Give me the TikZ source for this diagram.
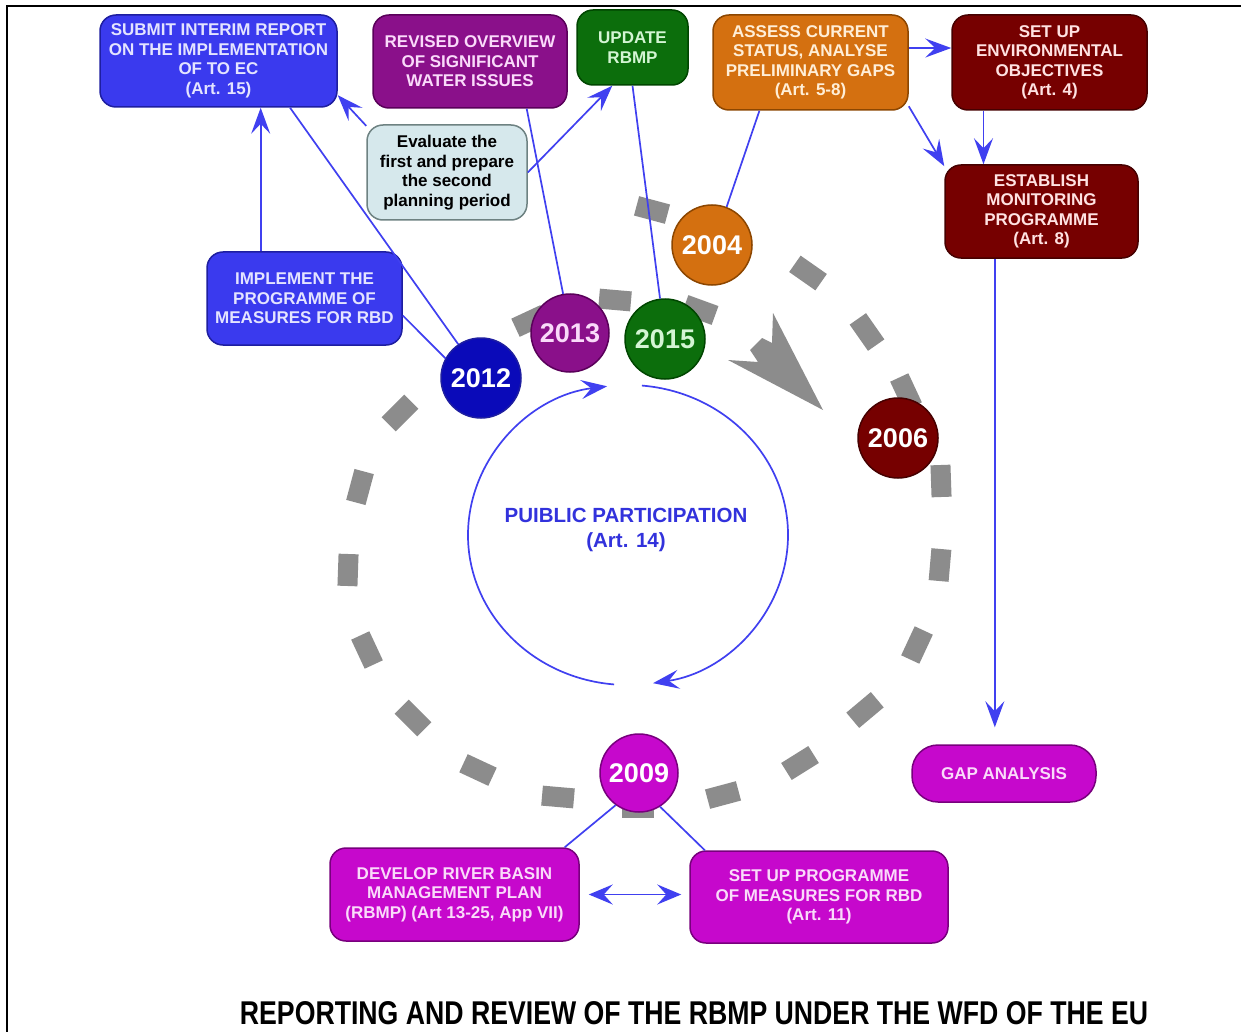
\documentclass[tikz,border=0pt]{standalone}
\usepackage{fontspec}
\usepackage{graphicx}
\setmainfont{Liberation Sans}
\usetikzlibrary{arrows.meta,calc}

% palette
\definecolor{blueBox}{RGB}{58,58,238}
\definecolor{blueLine}{RGB}{30,30,160}
\definecolor{blueText}{RGB}{228,228,255}
\definecolor{navyYear}{RGB}{10,10,185}
\definecolor{plumBox}{RGB}{138,16,138}
\definecolor{plumLine}{RGB}{90,0,90}
\definecolor{plumText}{RGB}{250,218,250}
\definecolor{greenBox}{RGB}{12,110,12}
\definecolor{greenLine}{RGB}{0,70,0}
\definecolor{greenText}{RGB}{212,245,212}
\definecolor{orangeBox}{RGB}{212,112,16}
\definecolor{orangeLine}{RGB}{140,70,0}
\definecolor{orangeText}{RGB}{255,238,215}
\definecolor{wineBox}{RGB}{118,0,0}
\definecolor{wineLine}{RGB}{70,0,0}
\definecolor{wineText}{RGB}{255,226,226}
\definecolor{magBox}{RGB}{198,8,204}
\definecolor{magLine}{RGB}{120,0,125}
\definecolor{magText}{RGB}{250,218,250}
\definecolor{evalFill}{RGB}{214,232,236}
\definecolor{evalLine}{RGB}{110,130,130}
\definecolor{connBlue}{RGB}{64,64,240}
\definecolor{ppBlue}{RGB}{50,50,220}
\definecolor{dashGray}{RGB}{140,140,140}

\newcommand\boxfont{\fontsize{17}{19.5}\selectfont\bfseries}
\newcommand\yearfont{\fontsize{27}{30}\selectfont\bfseries}

\begin{document}
\begin{tikzpicture}[x=1pt,y=1pt,
  box/.style={rectangle, rounded corners=16pt, draw, line width=1.5pt,
    align=center, inner sep=0pt, font=\boxfont},
  yr/.style={circle, draw, line width=1.5pt, minimum size=80pt,
    inner sep=0pt, font=\yearfont, text=white},
  conn/.style={draw=connBlue, line width=1.7pt},
  arr/.style={conn, -{Stealth[length=26pt,width=19pt,inset=10pt]}},
  dblarr/.style={conn, {Stealth[length=24pt,width=20pt,inset=9pt]}-{Stealth[length=24pt,width=20pt,inset=9pt]}}
]
\useasboundingbox (0,0) rectangle (1241,-1032);
\fill[white] (0,0) rectangle (1241,-1032);
\draw[line width=2pt] (7,-1032) -- (7,-6) -- (1241,-6);

% dashed cycle of the planning period
\foreach \x/\y/\a in {652/210/15, 808/273/35, 867/332/55, 906/392/65,
    941/481/88, 940/565/95, 917/645/115, 865/710/140, 800/763/148,
    723/795/165, 638/808/180, 558/797/5, 478/770/25, 413/718/45,
    367/650/65, 348/570/92, 360/487/105, 400/413/135, 530/321/155,
    615/300/5, 700/310/20}
  \fill[dashGray, rotate around={-\a:(\x,-\y)}]
    ({\x-16},{-\y-10}) rectangle ({\x+16},{-\y+10});
\fill[dashGray] (823,-410) -- (773,-313) -- (772,-343) -- (762,-338)
  -- (750,-350) -- (758,-362) -- (728,-360) -- cycle;

% year markers
\node[yr, fill=orangeBox, draw=orangeLine] (y2004) at (712,-245) {2004};
\node[yr, fill=wineBox, draw=wineLine] (y2006) at (898,-438) {2006};
\node[yr, fill=magBox, draw=magLine, minimum size=78pt] (y2009) at (639,-773) {2009};
\node[yr, fill=navyYear, draw=blueLine] (y2012) at (481,-378) {2012};
\node[yr, fill=plumBox, draw=plumLine, minimum size=78pt, text=plumText] (y2013) at (570,-333) {2013};
\node[yr, fill=greenBox, draw=greenLine, text=greenText] (y2015) at (665,-339) {2015};

% task boxes
\node[box, fill=blueBox, draw=blueLine, text=blueText,
  minimum width=237pt, minimum height=92pt] (submit) at (218.5,-61)
  {SUBMIT INTERIM REPORT\\ON THE IMPLEMENTATION\\OF TO EC\\(Art. 15)};
\node[box, fill=blueBox, draw=blueLine, text=blueText,
  minimum width=195pt, minimum height=93pt] (impl) at (304.5,-298.5)
  {IMPLEMENT THE\\PROGRAMME OF\\MEASURES FOR RBD};
\node[box, fill=plumBox, draw=plumLine, text=plumText,
  minimum width=194pt, minimum height=93pt] (revised) at (470,-61.5)
  {REVISED OVERVIEW\\OF SIGNIFICANT\\WATER ISSUES};
\node[box, fill=greenBox, draw=greenLine, text=greenText,
  minimum width=111pt, minimum height=75pt] (update) at (632.5,-47.5)
  {UPDATE\\RBMP};
\node[box, fill=evalFill, draw=evalLine, text=black,
  minimum width=160pt, minimum height=95pt] (eval) at (447,-172.5)
  {Evaluate the\\first and prepare\\the second\\planning period};
\node[box, fill=orangeBox, draw=orangeLine, text=orangeText,
  minimum width=195pt, minimum height=95pt] (assess) at (810.5,-62.5)
  {ASSESS CURRENT\\STATUS, ANALYSE\\PRELIMINARY GAPS\\(Art. 5-8)};
\node[box, fill=wineBox, draw=wineLine, text=wineText,
  minimum width=195pt, minimum height=95pt] (setenv) at (1049.5,-62.5)
  {SET UP\\ENVIRONMENTAL\\OBJECTIVES\\(Art. 4)};
\node[box, fill=wineBox, draw=wineLine, text=wineText,
  minimum width=193pt, minimum height=93pt] (establish) at (1041.5,-211.5)
  {ESTABLISH\\MONITORING\\PROGRAMME\\(Art. 8)};
\node[box, fill=magBox, draw=magLine, text=magText, rounded corners=26pt,
  minimum width=184pt, minimum height=57pt] (gap) at (1004,-773.5)
  {GAP ANALYSIS};
\node[box, fill=magBox, draw=magLine, text=magText,
  minimum width=249pt, minimum height=93pt] (develop) at (454.5,-894.5)
  {DEVELOP RIVER BASIN\\MANAGEMENT PLAN\\(RBMP) (Art 13-25, App VII)};
\node[box, fill=magBox, draw=magLine, text=magText,
  minimum width=258pt, minimum height=92pt] (setprog) at (819,-897)
  {SET UP PROGRAMME\\OF MEASURES FOR RBD\\(Art. 11)};

% public participation loop
\node[text=ppBlue, font=\fontsize{20.5}{25}\selectfont\bfseries, align=center]
  (pp) at (626,-530) {PUIBLIC PARTICIPATION\\(Art. 14)};
\coordinate (ring) at (628,-535);
\draw[arr] (ring) ++(-95:160 and 150)
  arc[start angle=-95, end angle=-262.5, x radius=160, y radius=150];
\draw[arr] (ring) ++(-275:160 and 150)
  arc[start angle=-275, end angle=-441, x radius=160, y radius=150];

% connectors
\coordinate (a1) at ($(impl.north west)!0.277!(impl.north east)$);
\draw[arr] (a1) -- (a1 |- submit.south);
\draw[conn] ($(submit.south west)!0.80!(submit.south east)$) -- (y2012.124);
\draw[conn] ($(impl.north east)!0.68!(impl.south east)$) -- (y2012.151);
\draw[arr] (eval.150) -- (submit.-16);
\draw[arr] (eval.east) -- ($(update.south west)!0.32!(update.south east)$);
\draw[conn] ($(revised.south west)!0.79!(revised.south east)$) -- (y2013.100);
\draw[conn] (update.south) -- (y2015.97);
\draw[conn] ($(assess.south west)!0.24!(assess.south east)$) -- (y2004.69);
\coordinate (i1) at ($(assess.north east)!0.35!(assess.south east)$);
\draw[arr] (i1) -- (i1 -| setenv.west);
\draw[arr] (assess.-24) -- (establish.155);
\coordinate (k1) at ($(setenv.south west)!0.164!(setenv.south east)$);
\draw[arr] (k1) -- (k1 |- establish.north);
\coordinate (l1) at ($(establish.south west)!0.26!(establish.south east)$);
\draw[arr, shorten >=17pt] (l1) -- (l1 |- gap.north);
\draw[conn] (y2009.234) -- ($(develop.north west)!0.94!(develop.north east)$);
\draw[conn] (y2009.302) -- ($(setprog.north west)!0.06!(setprog.north east)$);
\draw[dblarr, shorten <=9pt, shorten >=8pt] (develop.east) -- (develop.east -| setprog.west);

% caption
\node[inner sep=0pt] (title) at (694,-1013)
  {\resizebox{908pt}{23pt}{\bfseries REPORTING AND REVIEW OF THE RBMP UNDER THE WFD OF THE EU}};
\end{tikzpicture}
\end{document}
